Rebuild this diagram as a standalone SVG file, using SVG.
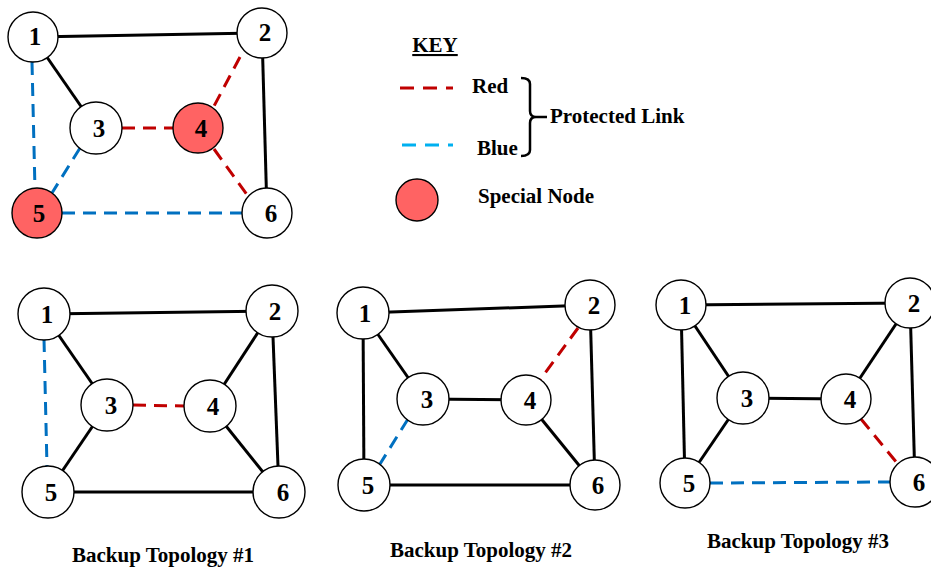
<svg xmlns="http://www.w3.org/2000/svg" width="931" height="568" viewBox="0 0 931 568">
<style>
.n circle{fill:#fff;stroke:#000;stroke-width:1.4}
.n.sp circle{fill:#FF6363}
.n text{font-family:"Liberation Serif",serif;font-weight:bold;font-size:25px;text-anchor:middle}
.e{stroke:#000;stroke-width:3;fill:none}
.r{stroke:#C00000;stroke-width:3;stroke-dasharray:13 8;fill:none}
.b{stroke:#0070C0;stroke-width:3;stroke-dasharray:13 8;fill:none}
.t{font-family:"Liberation Serif",serif;font-weight:bold;font-size:21px}
</style>
<g id="connectors">
<!-- top graph -->
<line class="e" x1="33" y1="37" x2="262" y2="33"/>
<line class="e" x1="33" y1="37" x2="96" y2="128"/>
<line class="e" x1="262" y1="33" x2="267" y2="213"/>
<line class="b" x1="32" y1="62" x2="35" y2="190"/>
<line class="b" x1="80" y1="148" x2="52" y2="193"/>
<line class="b" x1="62" y1="213" x2="242" y2="213"/>
<line class="r" x1="122" y1="128" x2="173" y2="128"/>
<line class="r" x1="240" y1="57" x2="213" y2="108"/>
<line class="r" x1="214" y1="149" x2="248" y2="196"/>
<!-- bottom graph 1 -->
<line class="e" x1="44" y1="314" x2="272" y2="311"/>
<line class="e" x1="44" y1="314" x2="107" y2="405"/>
<line class="e" x1="272" y1="311" x2="210" y2="406"/>
<line class="e" x1="272" y1="311" x2="279" y2="492"/>
<line class="e" x1="210" y1="406" x2="279" y2="492"/>
<line class="e" x1="107" y1="405" x2="48" y2="492"/>
<line class="e" x1="48" y1="492" x2="279" y2="492"/>
<line class="b" x1="44" y1="339" x2="47" y2="467"/>
<line class="r" x1="133" y1="405" x2="185" y2="406"/>
<!-- bottom graph 2 -->
<line class="e" x1="363" y1="313" x2="590" y2="305"/>
<line class="e" x1="363" y1="313" x2="423" y2="399"/>
<line class="e" x1="363" y1="313" x2="364" y2="485"/>
<line class="e" x1="423" y1="399" x2="526" y2="400"/>
<line class="e" x1="526" y1="400" x2="595" y2="485"/>
<line class="e" x1="590" y1="305" x2="595" y2="485"/>
<line class="e" x1="364" y1="485" x2="595" y2="485"/>
<line class="r" x1="578" y1="328" x2="540" y2="380"/>
<line class="b" x1="408" y1="419" x2="380" y2="464"/>
<!-- bottom graph 3 -->
<line class="e" x1="681" y1="305" x2="910" y2="303"/>
<line class="e" x1="681" y1="305" x2="743" y2="398"/>
<line class="e" x1="681" y1="305" x2="685" y2="483"/>
<line class="e" x1="743" y1="398" x2="685" y2="483"/>
<line class="e" x1="743" y1="398" x2="846" y2="399"/>
<line class="e" x1="910" y1="303" x2="846" y2="399"/>
<line class="e" x1="910" y1="303" x2="915" y2="482"/>
<line class="r" x1="861" y1="419" x2="897" y2="463"/>
<line class="b" x1="710" y1="483" x2="890" y2="482"/>
</g>
<g id="top-graph">
<g id="t1" class="n"><circle cx="33" cy="37" r="25"/><text x="35" y="45">1</text></g>
<g id="t2" class="n"><circle cx="262" cy="33" r="25"/><text x="265" y="41">2</text></g>
<g id="t3" class="n"><circle cx="96" cy="128" r="26"/><text x="99" y="137">3</text></g>
<g id="t4" class="n sp"><circle cx="198" cy="128" r="25"/><text x="201" y="137">4</text></g>
<g id="t5" class="n sp"><circle cx="37" cy="213" r="25"/><text x="39" y="222">5</text></g>
<g id="t6" class="n"><circle cx="267" cy="213" r="25"/><text x="271" y="222">6</text></g>
</g>
<g id="key">
<text class="t" x="435" y="52" text-anchor="middle" text-decoration="underline">KEY</text>
<line x1="400" y1="88" x2="453" y2="88" stroke="#C00000" stroke-width="3" stroke-dasharray="14 9"/>
<text class="t" x="472" y="93">Red</text>
<line x1="402" y1="145" x2="453" y2="145" stroke="#00B0F0" stroke-width="3" stroke-dasharray="14 9"/>
<text class="t" x="477" y="155">Blue</text>
<path d="M521 78 Q530 78 530 84 L530 111 Q530 117 536 117 L547 117 M536 117 Q530 117 530 123 L530 150 Q530 156 521 156" fill="none" stroke="#000" stroke-width="2.5"/>
<text class="t" x="550" y="123">Protected Link</text>
<circle cx="417" cy="200" r="21" fill="#FF6363" stroke="#000" stroke-width="1.4"/>
<text class="t" x="478" y="203">Special Node</text>
</g>
<g id="backup1">
<g id="a1" class="n"><circle cx="44" cy="314" r="26"/><text x="47" y="323">1</text></g>
<g id="a2" class="n"><circle cx="272" cy="311" r="26"/><text x="275" y="320">2</text></g>
<g id="a3" class="n"><circle cx="107" cy="405" r="26"/><text x="111" y="414">3</text></g>
<g id="a4" class="n"><circle cx="210" cy="406" r="26"/><text x="213" y="415">4</text></g>
<g id="a5" class="n"><circle cx="48" cy="492" r="26"/><text x="51" y="501">5</text></g>
<g id="a6" class="n"><circle cx="279" cy="492" r="26"/><text x="283" y="501">6</text></g>
<text class="t" x="163" y="562" text-anchor="middle">Backup Topology #1</text>
</g>
<g id="backup2">
<g id="b1" class="n"><circle cx="363" cy="313" r="26"/><text x="365" y="322">1</text></g>
<g id="b2" class="n"><circle cx="590" cy="305" r="25"/><text x="594" y="314">2</text></g>
<g id="b3" class="n"><circle cx="423" cy="399" r="26"/><text x="427" y="408">3</text></g>
<g id="b4" class="n"><circle cx="526" cy="400" r="25"/><text x="530" y="409">4</text></g>
<g id="b5" class="n"><circle cx="364" cy="485" r="26"/><text x="368" y="494">5</text></g>
<g id="b6" class="n"><circle cx="595" cy="485" r="25"/><text x="598" y="494">6</text></g>
<text class="t" x="481" y="557" text-anchor="middle">Backup Topology #2</text>
</g>
<g id="backup3">
<g id="c1" class="n"><circle cx="681" cy="305" r="25"/><text x="685" y="314">1</text></g>
<g id="c2" class="n"><circle cx="910" cy="303" r="25"/><text x="914" y="312">2</text></g>
<g id="c3" class="n"><circle cx="743" cy="398" r="26"/><text x="747" y="407">3</text></g>
<g id="c4" class="n"><circle cx="846" cy="399" r="25"/><text x="850" y="408">4</text></g>
<g id="c5" class="n"><circle cx="685" cy="483" r="25"/><text x="689" y="492">5</text></g>
<g id="c6" class="n"><circle cx="915" cy="482" r="25"/><text x="919" y="491">6</text></g>
<text class="t" x="798" y="548" text-anchor="middle">Backup Topology #3</text>
</g>
</svg>
